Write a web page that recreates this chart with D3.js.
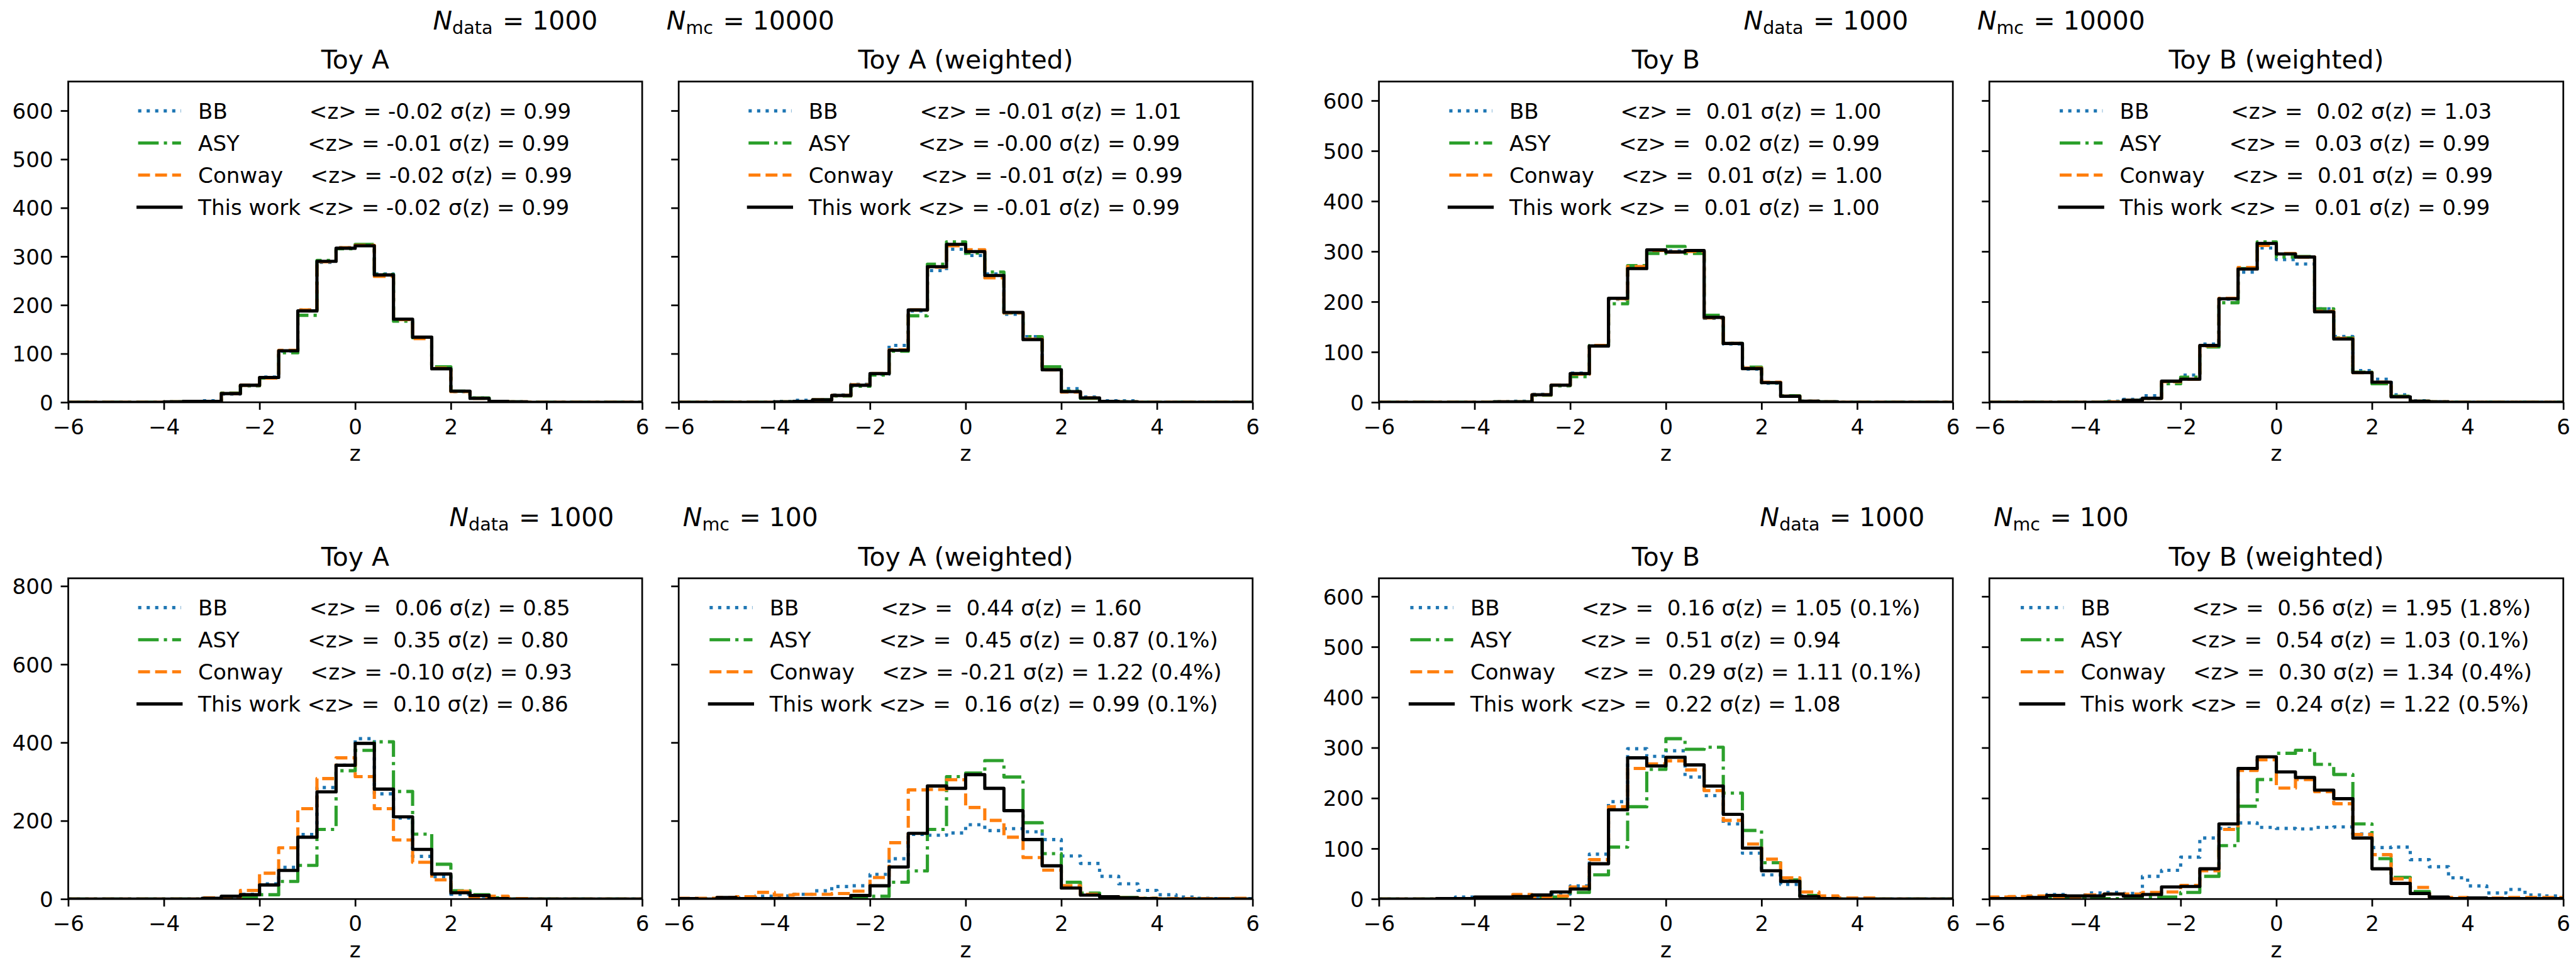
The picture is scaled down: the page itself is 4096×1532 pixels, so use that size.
<!DOCTYPE html>
<html>
<head>
<meta charset="utf-8">
<script src="https://cdn.jsdelivr.net/npm/d3@7"></script>
<style>
  html, body { margin: 0; padding: 0; background: #ffffff; }
  svg { display: block; font-family: "DejaVu Sans", sans-serif; }
</style>
</head>
<body>
<div id="container"><svg></svg></div>
<script>
// histogram bins (30 bins of width 0.4 between -6 and 6)
const binEdges = [-6.0, -5.6, -5.2, -4.8, -4.4, -4.0, -3.6, -3.2, -2.8, -2.4, -2.0, -1.6, -1.2, -0.8, -0.4,
    0.0, 0.4, 0.8, 1.2, 1.6, 2.0, 2.4, 2.8, 3.2, 3.6, 4.0, 4.4, 4.8, 5.2, 5.6, 6.0];

const methods = ['BB', 'ASY', 'Conway', 'This work'];
const legendNames = ['BB            ', 'ASY          ', 'Conway    ', 'This work '];
const panelTitles = ['Toy A', 'Toy A (weighted)', 'Toy B', 'Toy B (weighted)'];
const nData = [1000, 1000];
const nMc = [10000, 100];
const xTicks = [-6, -4, -2, 0, 2, 4, 6];
const yTicksTopA = [0, 100, 200, 300, 400, 500, 600];
const yTicksTopB = [0, 100, 200, 300, 400, 500, 600];
const yTicksBottomA = [0, 200, 400, 600, 800];
const yTicksBottomB = [0, 100, 200, 300, 400, 500, 600];

// counts per bin, one row per method: BB, ASY, Conway, This work
const countsTopToyA = [
    [0,0,0,0,0,1,2,3,17,34,52,105,190,288,318,324,264,170,133,72,22,9,2,1,0,0,0,0,0,0],
    [0,0,0,0,0,1,2,2,19,34,50,102,179,292,316,325,263,167,133,73,23,9,2,1,0,0,0,0,0,0],
    [0,0,0,0,0,1,2,2,18,35,50,107,190,289,318,323,259,170,131,70,22,8,2,1,0,0,0,0,0,0],
    [0,0,0,0,0,1,2,2,18,35,51,106,188,290,317,322,262,171,134,69,23,8,2,1,0,0,0,0,0,0]
];
const countsTopToyAW = [
    [0,0,0,0,0,2,4,5,15,37,58,117,188,271,315,302,264,181,135,71,28,11,3,3,0,0,0,0,0,0],
    [0,0,0,0,0,1,2,5,13,33,56,105,178,284,330,307,268,184,135,73,23,8,2,1,0,0,0,0,0,0],
    [0,0,0,0,0,1,2,5,14,36,59,108,190,278,322,314,256,184,130,67,21,9,2,1,0,0,0,0,0,0],
    [0,0,0,0,0,1,2,5,14,35,59,107,190,279,325,310,261,185,129,67,22,9,2,1,0,0,0,0,0,0]
];
const countsTopToyB = [
    [0,0,0,0,0,0,1,2,16,33,58,113,205,268,302,301,300,167,116,66,38,12,2,1,0,0,0,0,0,0],
    [0,0,0,0,0,0,1,1,14,33,51,113,196,272,296,310,296,173,117,70,39,13,2,1,0,0,0,0,0,0],
    [0,0,0,0,0,0,1,1,15,34,56,113,206,270,302,299,300,168,117,68,40,12,2,1,0,0,0,0,0,0],
    [0,0,0,0,0,0,1,1,15,34,57,112,207,266,303,299,302,169,117,67,39,12,2,1,0,0,0,0,0,0]
];
const countsTopToyBW = [
    [0,0,0,0,0,0,2,6,13,37,54,116,205,259,307,284,275,186,131,63,46,15,3,1,0,0,0,0,0,0],
    [0,0,0,0,0,0,1,4,8,37,50,110,198,266,319,289,290,186,128,60,37,12,2,1,0,0,0,0,0,0],
    [0,0,0,0,0,0,1,4,8,41,46,112,207,268,312,296,289,181,127,59,40,11,2,1,0,0,0,0,0,0],
    [0,0,0,0,0,0,0,4,8,42,46,113,206,265,316,295,289,180,126,59,40,11,2,1,0,0,0,0,0,0]
];
const countsBottomToyA = [
    [0,0,0,0,0,0,0,1,5,12,39,81,165,285,342,410,269,207,109,57,12,7,1,0,0,0,0,0,0,0],
    [0,0,0,0,0,0,0,0,1,3,11,45,86,178,328,380,402,275,166,89,21,11,3,0,0,0,0,0,0,0],
    [0,0,0,0,0,0,0,3,4,22,66,131,231,308,361,313,231,151,94,49,20,4,7,1,0,0,0,0,0,0],
    [0,0,0,0,0,0,0,2,7,11,36,73,158,274,342,398,281,210,127,64,16,9,1,0,0,0,0,0,0,0]
];
const countsBottomToyAW = [
    [1,1,2,3,7,8,12,21,32,34,63,103,165,163,169,190,175,180,172,152,110,91,58,39,22,11,5,2,1,1],
    [0,0,0,0,0,0,0,0,1,4,7,43,72,178,313,322,354,312,195,116,43,15,6,4,2,0,0,0,0,0],
    [2,2,4,6,17,10,12,12,14,20,55,144,279,280,305,234,201,158,106,74,34,12,6,3,2,1,1,1,1,2],
    [1,0,4,1,1,1,1,1,1,9,34,82,168,289,283,318,283,226,152,85,28,10,6,3,1,0,0,0,0,0]
];
const countsBottomToyB = [
    [0,0,0,0,4,2,3,5,5,10,26,89,193,298,283,294,242,205,149,91,48,29,6,1,0,0,0,0,0,0],
    [0,0,0,0,1,1,1,1,3,4,13,48,103,183,257,318,297,301,210,136,72,38,7,1,0,0,0,0,0,0],
    [0,0,0,0,0,1,1,9,3,6,24,78,183,259,268,274,256,215,156,109,79,42,14,6,2,2,0,0,0,0],
    [0,0,0,1,1,4,4,5,8,14,20,70,177,280,264,281,266,224,168,101,56,35,5,1,0,0,0,0,0,0]
];
const countsBottomToyBW = [
    [3,3,4,9,5,12,13,11,45,57,83,121,140,151,142,140,139,142,143,129,102,103,78,64,42,26,12,19,8,6],
    [0,0,0,1,2,1,1,2,3,4,13,45,106,184,237,289,295,267,247,149,80,43,15,3,1,0,0,0,0,0],
    [4,5,6,3,4,8,10,10,13,14,27,56,138,255,276,220,237,213,189,128,88,40,23,3,3,2,2,3,3,3],
    [1,1,3,7,6,6,10,6,9,24,25,60,149,259,282,252,241,216,199,121,60,31,11,4,1,2,1,1,1,1]
];

// legend statistics, [panel][method]
const zMeanTop = [[-0.02, -0.01, -0.02, -0.02], [-0.01, -0.004, -0.01, -0.01], [0.01, 0.02, 0.01, 0.01], [0.02, 0.03, 0.01, 0.01]];
const zSigmaTop = [[0.99, 0.99, 0.99, 0.99], [1.01, 0.99, 0.99, 0.99], [1.00, 0.99, 1.00, 1.00], [1.03, 0.99, 0.99, 0.99]];
const overflowTop = [['', '', '', ''], ['', '', '', ''], ['', '', '', ''], ['', '', '', '']];
const zMeanBottom = [[0.06, 0.35, -0.10, 0.10], [0.44, 0.45, -0.21, 0.16], [0.16, 0.51, 0.29, 0.22], [0.56, 0.54, 0.30, 0.24]];
const zSigmaBottom = [[0.85, 0.80, 0.93, 0.86], [1.60, 0.87, 1.22, 0.99], [1.05, 0.94, 1.11, 1.08], [1.95, 1.03, 1.34, 1.22]];
const overflowBottom = [['', '', '', ''], ['', '0.1%', '0.4%', '0.1%'], ['0.1%', '', '0.1%', ''], ['1.8%', '0.1%', '0.4%', '0.5%']];

// styles
const methodColors = ['#1f77b4', '#2ca02c', '#ff7f0e', '#000000'];
const methodDash = ['6.25,10.3', '40,10,6.25,10', '23.1,10', null];

// layout in reference pixels, scaled down by the viewBox
const W = 5009, H = 1873;
const pairLeft = [132.7, 2681.3];
const panelW = 1116, panelGap = 71, panelH = 624;
const rowTop = [158.4, 1124.8];
const fs = 41.7, fsTitle = 50, fsN = 50;
const lw = 6.25, spineW = 3.33, tickLen = 14.6;

let rows = [
    {panels: [countsTopToyA, countsTopToyAW, countsTopToyB, countsTopToyBW],
     means: zMeanTop, sigmas: zSigmaTop, overflow: overflowTop, yTicks: [yTicksTopA, yTicksTopB]},
    {panels: [countsBottomToyA, countsBottomToyAW, countsBottomToyB, countsBottomToyBW],
     means: zMeanBottom, sigmas: zSigmaBottom, overflow: overflowBottom, yTicks: [yTicksBottomA, yTicksBottomB]}
];

let svg = d3.select('#container').select('svg')
    .attr('width', 4096)
    .attr('height', 1532)
    .attr('viewBox', `0 0 ${W} ${H}`);

function stepPoints(counts) {
    let pts = [[binEdges[0], 0]];
    counts.forEach((c, i) => {
        pts.push([binEdges[i], c]);
        pts.push([binEdges[i + 1], c]);
    });
    pts.push([binEdges[binEdges.length - 1], 0]);
    return pts;
}

function fmtMean(m) {
    return (m < 0 ? '' : ' ') + m.toFixed(2);
}

function draw_panel(r, idx, counts, x, y, yTicks, showYLabels) {
    let row = rows[r];
    let left = x.range()[0], right = x.range()[1];
    let top = y.range()[1], bottom = y.range()[0];
    let cx = (left + right) / 2;
    let g = svg.append('g');

    let clipId = `clip-${r}-${idx}`;
    g.append('clipPath').attr('id', clipId)
        .append('rect')
        .attr('x', left).attr('y', top)
        .attr('width', right - left).attr('height', bottom - top);

    // histograms, step outline
    let line = d3.line().x(d => x(d[0])).y(d => y(d[1]));
    let lines = g.append('g').attr('clip-path', `url(#${clipId})`);
    counts.forEach((c, m) => {
        lines.append('path')
            .attr('d', line(stepPoints(c)))
            .attr('fill', 'none')
            .attr('stroke', methodColors[m])
            .attr('stroke-width', lw)
            .attr('stroke-linejoin', 'round')
            .attr('stroke-linecap', methodDash[m] ? 'butt' : 'square')
            .attr('stroke-dasharray', methodDash[m]);
    });

    // x axis
    let axX = g.append('g')
        .attr('transform', `translate(0, ${bottom})`)
        .call(d3.axisBottom(x).tickValues(xTicks).tickSize(tickLen).tickPadding(17.8)
            .tickFormat(d => d < 0 ? '\u2212' + Math.abs(d) : String(d)));
    axX.select('.domain').remove();
    axX.attr('font-family', null).attr('font-size', fs);
    axX.selectAll('line').attr('stroke-width', spineW);

    // y axis
    let axY = g.append('g')
        .attr('transform', `translate(${left}, 0)`)
        .call(d3.axisLeft(y).tickValues(yTicks).tickSize(tickLen).tickPadding(14.6)
            .tickFormat(d => showYLabels ? d : ''));
    axY.select('.domain').remove();
    axY.attr('font-family', null).attr('font-size', fs);
    axY.selectAll('line').attr('stroke-width', spineW);
    axY.selectAll('text').attr('dy', '0.36em');

    // spines
    g.append('rect')
        .attr('x', left).attr('y', top)
        .attr('width', right - left).attr('height', bottom - top)
        .attr('fill', 'none')
        .attr('stroke', '#000')
        .attr('stroke-width', spineW);

    // title and x label
    g.append('text')
        .attr('x', cx).attr('y', top - 25)
        .attr('text-anchor', 'middle')
        .attr('font-size', fsTitle)
        .text(panelTitles[idx]);
    g.append('text')
        .attr('x', cx).attr('y', bottom + 114)
        .attr('text-anchor', 'middle')
        .attr('font-size', fs)
        .text('z');

    // legend, upper center, no frame
    let leg = g.append('g');
    let texts = methods.map((name, m) => {
        let ov = row.overflow[idx][m];
        let label = `${legendNames[m]}<z> = ${fmtMean(row.means[idx][m])} \u03c3(z) = ${row.sigmas[idx][m].toFixed(2)}`
            + (ov ? ` (${ov})` : '');
        return leg.append('text')
            .attr('xml:space', 'preserve')
            .style('white-space', 'pre')
            .attr('font-size', fs)
            .text(label);
    });
    let maxW = d3.max(texts, t => t.node().getComputedTextLength());
    let handleLen = 2 * fs, handlePad = 0.8 * fs, border = 0.4 * fs;
    let legW = 2 * border + handleLen + handlePad + maxW;
    let x0 = cx - legW / 2 + border;
    texts.forEach((t, m) => {
        let cy = top + 57 + m * 62.5;
        leg.append('line')
            .attr('x1', x0).attr('x2', x0 + handleLen)
            .attr('y1', cy).attr('y2', cy)
            .attr('stroke', methodColors[m])
            .attr('stroke-width', lw)
            .attr('stroke-linecap', methodDash[m] ? 'butt' : 'square')
            .attr('stroke-dasharray', methodDash[m]);
        t.attr('x', x0 + handleLen + handlePad).attr('y', cy + 0.36 * fs);
    });
}

function draw_main() {
    rows.forEach((row, r) => {
        let top = rowTop[r];
        [0, 1].forEach(p => {
            let pair = [row.panels[2 * p], row.panels[2 * p + 1]];
            let ymax = 2 * d3.max(pair.flat(2));
            let y = d3.scaleLinear()
                .domain([0, ymax])
                .range([top + panelH, top]);
            pair.forEach((counts, k) => {
                let left = pairLeft[p] + k * (panelW + panelGap);
                let x = d3.scaleLinear()
                    .domain([binEdges[0], binEdges[binEdges.length - 1]])
                    .range([left, left + panelW]);
                draw_panel(r, 2 * p + k, counts, x, y, row.yTicks[p], k == 0);
            });

            // N_data / N_mc annotation over each pair
            let cx = pairLeft[p] + panelW + panelGap / 2 - 52;
            let ann = svg.append('text')
                .attr('x', cx).attr('y', top - 101)
                .attr('text-anchor', 'middle')
                .attr('font-size', fsN)
                .style('white-space', 'pre');
            ann.append('tspan').attr('font-style', 'italic').text('N');
            ann.append('tspan').attr('font-size', fsN * 0.7).attr('dy', 8).text('data');
            ann.append('tspan').attr('dy', -8).attr('dx', 3).text(` = ${nData[r]}`);
            ann.append('tspan').attr('dx', 134).attr('font-style', 'italic').text('N');
            ann.append('tspan').attr('font-size', fsN * 0.7).attr('dy', 8).text('mc');
            ann.append('tspan').attr('dy', -8).attr('dx', 3).text(` = ${nMc[r]}`);
        });
    });
}

draw_main();
</script>
</body>
</html>
